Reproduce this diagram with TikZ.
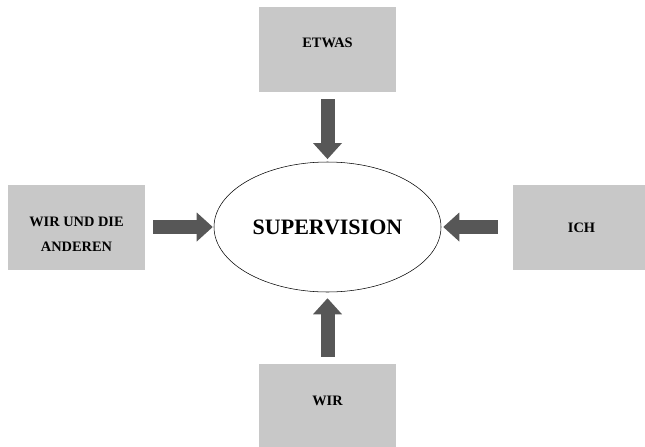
\documentclass[tikz,border=0pt]{standalone}
\usepackage{fontspec}
\setmainfont{Liberation Serif}
\usetikzlibrary{arrows.meta,shapes.geometric}
\definecolor{boxgray}{HTML}{C8C8C8}
\definecolor{arrowgray}{HTML}{575757}

\begin{document}
\begin{tikzpicture}[x=0.75pt,y=-0.75pt,line cap=butt,
		feld/.style={fill=boxgray,minimum width=102.75pt,minimum height=63.75pt,inner sep=0pt},
		txt/.style={font=\bfseries\fontsize{10.8}{18.75}\selectfont,align=center,inner sep=0pt},
		pfeil/.style={draw=arrowgray,line width=10.5pt,-{Triangle[length=12pt,width=21.75pt,line width=0pt]}}]
		\useasboundingbox (0,0) rectangle (645,446);
		%\draw[help lines,step=50] (0,0) grid (645,446);
		\node[draw,ellipse,thin,minimum width=170.25pt,minimum height=97.5pt,inner sep=0pt,
			font=\bfseries\fontsize{16.5}{18}\selectfont] (sup) at (327.5,227) {SUPERVISION};
		\node[feld] (etwas) at (327.5,49.5) {};
		\node[feld] (wuda) at (76.5,227) {};
		\node[feld] (ich) at (581.5,227) {};
		\node[feld] (wir) at (327.5,406.5) {};
		\node[txt] (etwas-t) at (327.5,42.7) {ETWAS};
		\node[txt] (wuda-t) at (76.5,234.4) {WIR UND DIE\\ANDEREN};
		\node[txt] (ich-t) at (581.5,227.3) {ICH};
		\node[txt] (wir-t) at (327.5,400.4) {WIR};
		\draw[pfeil,shorten <=5.25pt,shorten >=2pt] (etwas) -- (sup);
		\draw[pfeil,shorten <=6pt,shorten >=0.75pt] (wuda) -- (sup);
		\draw[pfeil,shorten <=11.25pt,shorten >=1.5pt] (ich) -- (sup);
		\draw[pfeil,shorten <=5.25pt,shorten >=4.5pt] (wir) -- (sup);
\end{tikzpicture}
\end{document}
